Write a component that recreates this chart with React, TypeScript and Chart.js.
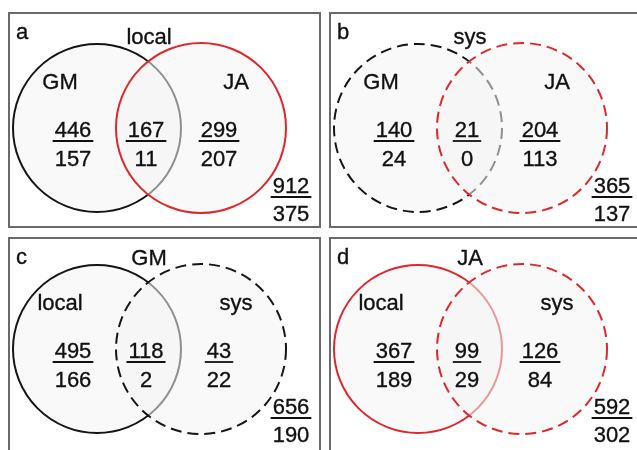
import { useEffect, useRef } from "react";
import { Chart, registerables } from "chart.js";

Chart.register(...registerables);

// Venn counts per panel: upper figure over lower figure in each region
const panelLetters = ["a", "b", "c", "d"];
const panelTitles = ["local", "sys", "GM", "JA"];
const leftSetNames = ["GM", "GM", "local", "local"];
const rightSetNames = ["JA", "JA", "sys", "sys"];
const leftOnlyTop = [446, 140, 495, 367];
const leftOnlyBottom = [157, 24, 166, 189];
const sharedTop = [167, 21, 118, 99];
const sharedBottom = [11, 0, 2, 29];
const rightOnlyTop = [299, 204, 43, 126];
const rightOnlyBottom = [207, 113, 22, 84];
const totalTop = [912, 365, 656, 592];
const totalBottom = [375, 137, 190, 302];

// ---- styling / layout ----
const BLACK = "#151515";
const RED = "#e0262a";
const DASH = [11, 6];
const FILL = "rgba(244,244,244,0.55)";
const FONT = "22px 'Liberation Sans', Arial, sans-serif";
const TEXT = "#111111";

const PANEL_W = 313;
const PANEL_H = 216;
const panelOrigins: [number, number][] = [
  [8, 12],
  [329, 12],
  [8, 237],
  [329, 237],
];
const rowShift = [0, 0, -4, -4];

type CircleStyle = { color: string; dash: number[] };
const circleStyles: [CircleStyle, CircleStyle][] = [
  [{ color: BLACK, dash: [] }, { color: RED, dash: [] }],
  [{ color: BLACK, dash: DASH }, { color: RED, dash: DASH }],
  [{ color: BLACK, dash: [] }, { color: BLACK, dash: DASH }],
  [{ color: RED, dash: [] }, { color: RED, dash: DASH }],
];

// positions in panel units (x right, y down)
const LAYOUT = {
  leftCircle: { x: 89, y: 116, r: 84 },
  rightCircle: { x: 193, y: 116, r: 85 },
  letter: { x: 8, y: 27 },
  title: { x: 141, y: 32 },
  leftName: { x: 52, y: 77 },
  rightName: { x: 228, y: 77 },
  regionX: [65, 138, 211],
  fracTop: 125,
  fracRule: 129,
  fracBottom: 154,
  total: { x: 283, top: 181, rule: 185, bottom: 209 },
};

const dashPlugin = {
  id: "circleDash",
  beforeDatasetDraw(chart: any, args: any) {
    const ds = chart.data.datasets[args.index];
    chart.ctx.save();
    chart.ctx.setLineDash(ds.dash || []);
  },
  afterDatasetDraw(chart: any) {
    chart.ctx.restore();
  },
};

function makeLabelPlugin(i: number) {
  return {
    id: "vennLabels",
    afterDatasetsDraw(chart: any) {
      const ctx = chart.ctx as CanvasRenderingContext2D;
      const sx = chart.scales.x;
      const sy = chart.scales.y;
      const dy = rowShift[i];
      const X = (v: number) => sx.getPixelForValue(v);
      const Y = (v: number) => sy.getPixelForValue(v + dy);
      ctx.save();
      ctx.font = FONT;
      ctx.fillStyle = TEXT;
      ctx.strokeStyle = TEXT;
      ctx.textBaseline = "alphabetic";

      const text = (s: string, x: number, y: number) => {
        ctx.fillText(s, x, y);
        ctx.lineWidth = 0.35;
        ctx.strokeText(s, x, y);
      };

      ctx.textAlign = "left";
      text(panelLetters[i], X(LAYOUT.letter.x), sy.getPixelForValue(LAYOUT.letter.y));

      ctx.textAlign = "center";
      text(panelTitles[i], X(LAYOUT.title.x), Y(LAYOUT.title.y));
      text(leftSetNames[i], X(LAYOUT.leftName.x), Y(LAYOUT.leftName.y));
      text(rightSetNames[i], X(LAYOUT.rightName.x), Y(LAYOUT.rightName.y));

      const fraction = (cx: number, top: number, bottom: number, yt: number, yr: number, yb: number) => {
        const t = String(top);
        const b = String(bottom);
        text(t, X(cx), Y(yt));
        text(b, X(cx), Y(yb));
        const w = ctx.measureText(t).width + 4;
        ctx.lineWidth = 1.8;
        ctx.beginPath();
        ctx.moveTo(X(cx) - w / 2, Y(yr));
        ctx.lineTo(X(cx) + w / 2, Y(yr));
        ctx.stroke();
      };

      const tops = [leftOnlyTop[i], sharedTop[i], rightOnlyTop[i]];
      const bottoms = [leftOnlyBottom[i], sharedBottom[i], rightOnlyBottom[i]];
      LAYOUT.regionX.forEach((cx, k) =>
        fraction(cx, tops[k], bottoms[k], LAYOUT.fracTop, LAYOUT.fracRule, LAYOUT.fracBottom)
      );
      fraction(
        LAYOUT.total.x,
        totalTop[i],
        totalBottom[i],
        LAYOUT.total.top,
        LAYOUT.total.rule,
        LAYOUT.total.bottom
      );
      ctx.restore();
    },
  };
}

function Panel({ index }: { index: number }) {
  const ref = useRef<HTMLCanvasElement>(null);

  useEffect(() => {
    if (!ref.current) return;
    const [ls, rs] = circleStyles[index];
    const dy = rowShift[index];
    const lc = LAYOUT.leftCircle;
    const rc = LAYOUT.rightCircle;
    const chart = new Chart(ref.current, {
      type: "bubble",
      data: {
        datasets: [
          {
            label: leftSetNames[index],
            data: [{ x: lc.x, y: lc.y + dy, r: lc.r }],
            backgroundColor: FILL,
            borderColor: ls.color,
            borderWidth: 2,
            order: 1,
            clip: false,
            dash: ls.dash,
          } as any,
          {
            label: rightSetNames[index],
            data: [{ x: rc.x, y: rc.y + dy, r: rc.r }],
            backgroundColor: FILL,
            borderColor: rs.color,
            borderWidth: 2,
            order: 0,
            clip: false,
            dash: rs.dash,
          } as any,
        ],
      },
      options: {
        animation: false,
        responsive: false,
        events: [],
        layout: { padding: 0, autoPadding: false },
        plugins: { legend: { display: false }, tooltip: { enabled: false } },
        scales: {
          x: { type: "linear", min: 0, max: PANEL_W, display: false },
          y: { type: "linear", min: 0, max: PANEL_H, reverse: true, display: false },
        },
      },
      plugins: [dashPlugin, makeLabelPlugin(index)],
    });
    return () => chart.destroy();
  }, [index]);

  const [left, top] = panelOrigins[index];
  return (
    <>
      <canvas
        ref={ref}
        width={PANEL_W}
        height={PANEL_H}
        style={{ position: "absolute", left, top, width: PANEL_W, height: PANEL_H }}
      />
      <div
        style={{
          position: "absolute",
          left,
          top,
          width: PANEL_W,
          height: PANEL_H,
          boxSizing: "border-box",
          border: "2px solid #6a6a6a",
          pointerEvents: "none",
        }}
      />
    </>
  );
}

export default function App() {
  return (
    <div
      style={{
        position: "fixed",
        left: 0,
        top: 0,
        width: 637,
        height: 450,
        overflow: "hidden",
        background: "#ffffff",
      }}
    >
      {panelLetters.map((_, i) => (
        <Panel key={i} index={i} />
      ))}
    </div>
  );
}
